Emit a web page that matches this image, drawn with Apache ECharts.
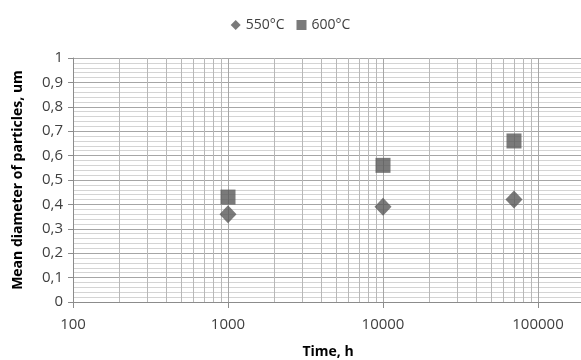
<!DOCTYPE html>
<html>
<head>
<meta charset="utf-8">
<script src="https://cdn.jsdelivr.net/npm/echarts@6/dist/echarts.min.js"></script>
<style>
html, body { margin: 0; padding: 0; background: #fff; }
#chart { width: 581px; height: 360px; }
</style>
</head>
<body>
<div id="chart"></div>
<script>
// 数据
var seriesNames = ["550°C", "600°C"];
var times550 = [1000, 10000, 70000];
var diam550 = [0.36, 0.39, 0.42];
var times600 = [1000, 10000, 70000];
var diam600 = [0.43, 0.56, 0.66];
var xTickLabels = ["100", "1000", "10000", "100000"];
var yTickLabels = ["0", "0,1", "0,2", "0,3", "0,4", "0,5", "0,6", "0,7", "0,8", "0,9", "1"];

var font = "'Open Sans', 'Liberation Sans', sans-serif";

// 对数轴次网格线 2..9 x 10^n
var minorLines = [];
for (var d = 100; d < 1000000; d *= 10) {
    for (var k = 2; k <= 9; k++) {
        minorLines.push({ xAxis: k * d });
    }
}

function pairs(xs, ys) {
    var out = [];
    for (var i = 0; i < xs.length; i++) out.push([xs[i], ys[i]]);
    return out;
}

var chart = echarts.init(document.getElementById("chart"));
var option = {
    animation: false,
    legend: {
        top: 13,
        left: "center",
        itemWidth: 10,
        itemHeight: 10,
        itemGap: 12,
        textStyle: { fontFamily: font, fontSize: 14, color: "#404040" },
        data: [
            { name: seriesNames[0], icon: "diamond" },
            { name: seriesNames[1], icon: "rect" }
        ]
    },
    grid: { left: 73, top: 58, right: -112, bottom: 58, outerBoundsMode: "none", containLabel: false },
    xAxis: {
        type: "log",
        logBase: 10,
        min: 100,
        max: 1000000,
        axisLine: { show: true, lineStyle: { color: "#8c8c8c", width: 1 } },
        axisTick: { show: true, length: 6, lineStyle: { color: "#8c8c8c" } },
        axisLabel: {
            margin: 15,
            fontFamily: font,
            fontSize: 15,
            color: "#404040",
            formatter: function (v) {
                var idx = Math.round(Math.log(v) / Math.LN10) - 2;
                return xTickLabels[idx] || "";
            }
        },
        splitLine: { show: true, lineStyle: { color: "#a6a6a6", width: 1 } }
    },
    yAxis: {
        type: "value",
        min: 0,
        max: 1,
        interval: 0.1,
        axisLine: { show: true, lineStyle: { color: "#8c8c8c", width: 1 } },
        axisTick: { show: true, length: 5, lineStyle: { color: "#8c8c8c" } },
        axisLabel: {
            margin: 10,
            fontFamily: font,
            fontSize: 15,
            color: "#404040",
            formatter: function (v) {
                return yTickLabels[Math.round(v * 10)];
            }
        },
        splitLine: { show: true, lineStyle: { color: "#a6a6a6", width: 1 } },
        minorTick: { show: false, splitNumber: 5 },
        minorSplitLine: { show: true, lineStyle: { color: "#d4d4d4", width: 1 } }
    },
    graphic: [
        {
            type: "text",
            x: 18,
            y: 180,
            rotation: Math.PI / 2,
            style: {
                text: "Mean diameter of particles, um",
                fontFamily: font,
                fontSize: 14,
                fontWeight: "bold",
                fill: "#000",
                align: "center",
                verticalAlign: "middle"
            }
        },
        {
            type: "text",
            x: 328,
            y: 352,
            style: {
                text: "Time, h",
                fontFamily: font,
                fontSize: 14,
                fontWeight: "bold",
                fill: "#000",
                align: "center",
                verticalAlign: "middle"
            }
        }
    ],
    series: [
        {
            name: "minor",
            type: "line",
            data: [],
            silent: true,
            markLine: {
                silent: true,
                z: 1,
                symbol: ["none", "none"],
                label: { show: false },
                lineStyle: { color: "#b8b8b8", width: 1, type: "solid" },
                data: minorLines
            }
        },
        {
            name: seriesNames[0],
            type: "scatter",
            symbol: "diamond",
            symbolSize: [17, 18],
            itemStyle: { color: "#595959" },
            z: 3,
            data: pairs(times550, diam550)
        },
        {
            name: seriesNames[1],
            type: "scatter",
            symbol: "rect",
            symbolSize: 15,
            itemStyle: { color: "#595959" },
            z: 3,
            data: pairs(times600, diam600)
        }
    ]
};
chart.setOption(option);
window.onresize = function () {
    chart.resize();
};
</script>
</body>
</html>
